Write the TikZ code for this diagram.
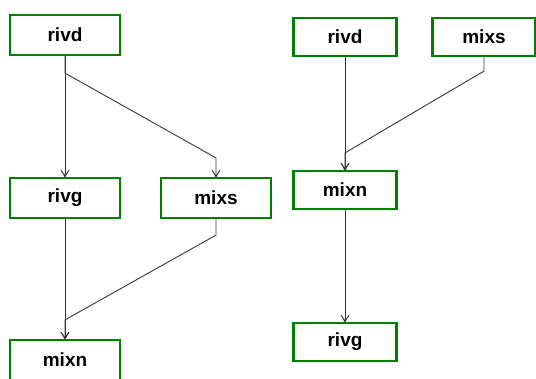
\documentclass[tikz,border=0pt]{standalone}
\usepackage{fontspec}
\setmainfont{Liberation Sans}
\usepackage{xcolor}
\usetikzlibrary{arrows.meta,calc}
\definecolor{boxgreen}{RGB}{0,128,0}
\definecolor{linegray}{RGB}{55,55,55}

\begin{document}
\begin{tikzpicture}[
    x=1pt, y=-1pt,
    var/.style={draw=boxgreen, line width=2.2pt, fill=white, minimum width=110pt, minimum height=40pt, inner sep=0pt, font=\fontsize{19}{22}\selectfont\bfseries},
    varR/.style={var, minimum width=103pt, minimum height=38pt},
    link/.style={draw=linegray, line width=0.9pt, -{Straight Barb[length=6pt,width=8pt,sep=-2.5pt]Circle[length=2.5pt]}}
]
    \useasboundingbox (0,0) rectangle (536,378);
    \clip (0,0) rectangle (536,378);

    % first ordering
    \node[var] (rivdL) at (65,35) {rivd};
    \node[var] (rivgL) at (65,198) {rivg};
    \node[var] (mixsL) at (216,198) {mixs};
    \node[var] (mixnL) at (65,360) {mixn};

    \draw[link] (rivdL.south) -- (rivgL.north);
    \draw[link] (rivdL.south) -- ++(0,17) -- ($(mixsL.north)+(0,-19)$) -- (mixsL.north);
    \draw[link] (rivgL.south) -- (mixnL.north);
    \draw[link] (mixsL.south) -- ++(0,16) -- ($(mixnL.north)+(0,-19)$) -- (mixnL.north);

    % second ordering
    \node[varR] (rivdR) at (345,37) {rivd};
    \node[varR] (mixsR) at (484,37) {mixs};
    \node[varR] (mixnR) at (345,190) {mixn};
    \node[varR] (rivgR) at (345,342) {rivg};

    \draw[link] (rivdR.south) -- (mixnR.north);
    \draw[link] (mixsR.south) -- ++(0,14) -- ($(mixnR.north)+(0,-17)$) -- (mixnR.north);
    \draw[link] (mixnR.south) -- (rivgR.north);
\end{tikzpicture}
\end{document}
